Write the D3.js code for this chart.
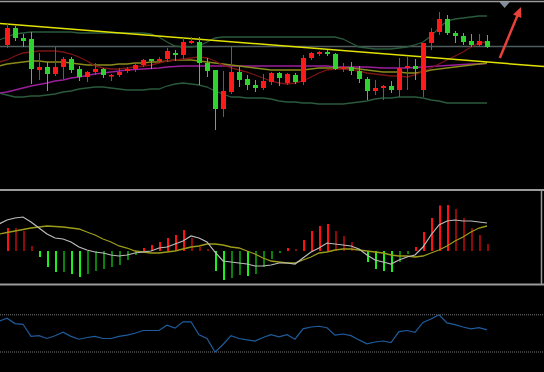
<!DOCTYPE html>
<html>
<head>
<meta charset="utf-8">
<script src="https://cdnjs.cloudflare.com/ajax/libs/d3/7.8.5/d3.min.js"></script>
<style>
html, body { margin: 0; padding: 0; background: #000; overflow: hidden; }
svg { display: block; }
</style>
</head>
<body>
<script>
// daily candles, oldest first
var open  = [15.5,17.2,16.2,16.1,13.0,13.3,12.6,13.3,14.1,13.1, 12.3,12.8,13.1,12.4,12.5,12.9,13.1,13.5,14.1,13.9,
             14.1,14.7,14.5,15.7,15.8,13.7,13.0,9.1,10.8,12.8, 12.1,11.5,11.2,11.8,12.7,11.7,12.5,11.8,14.2,14.6,
             14.8,14.6,13.1,13.3,12.9,12.1,10.9,11.2,11.4,11.0, 13.2,13.4,11.0,15.7,16.8,18.1,16.7,16.4,15.9,15.5, 15.9];
var high  = [17.6,17.4,16.6,16.8,14.7,13.8,15.3,14.3,14.3,13.4, 12.9,13.7,13.2,12.6,13.2,13.3,13.7,14.1,14.1,14.3,
             15.2,15.0,16.2,16.3,16.3,14.2,13.0,12.9,15.4,13.3, 12.5,12.0,12.6,12.8,12.8,12.7,12.7,14.5,14.8,14.9,
             15.0,14.7,13.7,13.8,13.4,12.3,12.0,11.5,11.9,14.2, 14.3,14.1,15.7,17.2,18.8,18.5,16.9,16.7,16.6,16.6, 16.5];
var low   = [15.2,15.9,15.3,11.6,12.0,10.9,12.4,12.1,12.7,11.9, 11.8,12.5,12.2,11.9,12.3,12.7,12.8,13.3,13.1,13.7,
             13.8,13.9,14.1,15.6,11.5,12.3,7.0,8.3,10.6,11.3, 11.0,10.8,11.0,11.5,11.4,11.5,11.6,11.5,14.0,14.4,
             14.4,13.0,12.8,12.5,11.7,10.0,10.5,10.0,10.7,10.3, 11.0,12.0,10.3,15.0,16.5,16.5,15.7,15.5,15.3,15.3, 15.2];
var close = [17.2,16.2,15.9,13.1,13.3,12.6,13.3,14.1,13.0,12.3, 12.8,13.1,12.5,12.5,12.8,13.1,13.5,14.0,13.9,14.1,
             14.9,14.5,15.8,15.9,13.7,12.9,9.1,10.9,12.8,12.0, 11.5,11.2,11.9,12.7,12.2,12.6,11.8,14.2,14.7,14.8,
             14.6,13.1,13.3,12.9,12.1,10.9,11.2,11.4,11.0,13.2, 13.4,13.1,15.7,16.8,18.1,16.7,16.4,15.8,15.5,15.9, 15.3];

// indicator lines start one bar before the first candle
var bollUpper = [16.0,16.3,16.6,16.7,16.8,16.8,16.8,16.8,16.8,16.8, 16.7,16.7,16.7,16.7,16.7,16.7,16.7,16.7,16.7,16.6,
                 16.3,15.8,15.4,15.3,15.3,15.4,15.8,16.2,16.3,16.3, 16.3,16.3,16.3,16.3,16.3,16.3,16.3,16.3,16.3,16.3,
                 16.3,16.3,16.3,16.1,15.7,15.3,15.2,15.1,15.1,15.1, 15.2,15.3,15.5,15.8,16.4,17.2,17.9,18.1,18.2,18.3, 18.4,18.4];
var bollLower = [10.7,10.5,10.3,10.3,10.4,10.4,10.5,10.6,10.8,10.9, 11.1,11.2,11.3,11.3,11.2,11.1,11.0,11.0,11.0,11.1,
                 11.1,11.4,11.6,11.7,11.6,11.5,11.3,10.9,10.6,10.3, 10.3,10.2,10.2,10.2,10.1,9.9,9.8,9.8,9.7,9.7,
                 9.6,9.6,9.6,9.6,9.7,9.8,9.9,10.1,10.2,10.2, 10.3,10.3,10.3,10.2,10.0,9.9,9.7,9.7,9.7,9.7, 9.7,9.7];
var maShort = [13.8,14.0,14.4,14.7,14.8,14.9,14.9,14.9,14.8,14.6, 14.3,13.9,13.4,13.2,13.1,13.1,13.2,13.3,13.4,13.5,
               13.7,13.9,14.0,14.1,14.2,14.3,14.2,13.9,13.5,13.2, 13.0,12.8,12.5,12.2,11.9,11.7,11.6,11.7,11.9,12.3,
               12.7,13.0,13.1,13.1,13.0,12.9,12.7,12.6,12.5,12.4, 12.4,12.3,12.5,12.9,13.2,13.6,14.0,14.4,14.8,15.3, 15.7,15.8];
var maMid = [13.4,13.6,13.7,13.8,13.9,13.9,13.8,13.8,13.8,13.7, 13.6,13.5,13.5,13.5,13.5,13.6,13.6,13.7,13.7,13.8,
             13.8,13.9,14.0,14.0,14.0,13.9,13.8,13.7,13.6,13.5, 13.4,13.3,13.2,13.1,13.0,13.0,13.0,13.0,13.0,13.1,
             13.2,13.2,13.2,13.2,13.2,13.1,13.0,12.9,12.8,12.8, 12.8,12.7,12.7,12.8,13.0,13.1,13.2,13.3,13.4,13.5, 13.6,13.7];
var maLong = [10.7,10.8,11.0,11.2,11.4,11.55,11.7,11.9,12.0,12.2, 12.3,12.45,12.6,12.7,12.8,12.9,13.0,13.05,13.1,13.15,
              13.2,13.3,13.35,13.4,13.4,13.4,13.4,13.4,13.4,13.4, 13.4,13.4,13.4,13.4,13.4,13.4,13.4,13.4,13.4,13.4,
              13.4,13.4,13.3,13.3,13.3,13.3,13.3,13.25,13.2,13.2, 13.2,13.2,13.25,13.3,13.35,13.4,13.45,13.5,13.55,13.6, 13.6,13.65];

// drawn trendline (bar index, price) and horizontal level
var trendIdx = [0, 60];
var trendPrice = [17.6, 13.8];
var levelPrice = 15.35;
var arrowIdx = [61.6, 64.25];
var arrowPrice = [14.2, 19.3];
var markIdx = 62.2;

// MACD
var macdHist = [0.23,0.23,0.20,0.05,-0.06,-0.16,-0.21,-0.21,-0.23,-0.26, -0.23,-0.20,-0.18,-0.16,-0.14,-0.09,-0.04,0.03,0.06,0.09,
                0.13,0.16,0.21,0.13,0.04,0.02,-0.20,-0.29,-0.27,-0.24, -0.25,-0.23,-0.16,-0.08,-0.02,0.03,0.02,0.11,0.20,0.25,
                0.27,0.20,0.15,0.09,0.01,-0.11,-0.18,-0.20,-0.21,-0.11, -0.03,0.04,0.19,0.33,0.455,0.46,0.42,0.33,0.23,0.16, 0.07];
var macdDif = [0.27,0.31,0.33,0.34,0.29,0.23,0.17,0.13,0.12,0.09, 0.04,0.01,-0.01,-0.02,-0.04,-0.05,-0.04,-0.02,-0.01,0.00,
               0.03,0.04,0.07,0.10,0.15,0.13,0.09,-0.01,-0.10,-0.11, -0.12,-0.13,-0.15,-0.15,-0.14,-0.12,-0.12,-0.13,-0.07,-0.01,
               0.03,0.08,0.07,0.06,0.05,0.02,-0.04,-0.09,-0.11,-0.13, -0.09,-0.06,-0.04,0.04,0.16,0.26,0.30,0.31,0.30,0.30, 0.29,0.28];
var macdDea = [0.17,0.185,0.20,0.215,0.23,0.24,0.25,0.245,0.24,0.23, 0.22,0.19,0.16,0.12,0.09,0.05,0.03,0.00,-0.01,-0.02,
               -0.02,-0.01,0.00,0.02,0.04,0.05,0.07,0.07,0.06,0.04, 0.03,0.00,-0.03,-0.07,-0.10,-0.11,-0.12,-0.12,-0.09,-0.06,
               -0.02,-0.01,0.01,0.02,0.02,0.01,0.00,-0.01,-0.02,-0.04, -0.05,-0.05,-0.06,-0.05,-0.02,0.01,0.05,0.10,0.14,0.19, 0.23,0.25];

// RSI with 80 / 20 guides
var rsi = [69.8,74.4,65.8,64.7,45.2,46.3,41.8,46.3,51.8,45.2, 40.6,43.4,45.2,41.8,41.8,45.2,47.3,50.2,54.7,54.7,
           54.7,63.1,58.5,68.7,68.7,47.9,41.8,19.8,32.1,46.3, 41.8,39.5,37.7,43.4,47.9,44.5,47.9,40.6,57.4,60.3,
           61.5,59.2,47.3,49.0,46.3,39.5,33.2,36.1,37.7,35.0, 52.9,54.7,51.8,67.6,73.2,80.0,66.9,64.2,60.3,57.4, 59.2,55.8];
var rsiLevels = [80, 20];


var W = 544, H = 372;
var svg = d3.select("body").append("svg").attr("width", W).attr("height", H);
svg.append("rect").attr("width", W).attr("height", H).attr("fill", "#000");

var x = d3.scaleLinear().domain([0, 60]).range([7, 487]);
var y = d3.scaleLinear().domain([1.2, 20]).range([188, 0]);
var ym = d3.scaleLinear().domain([-0.32, 0.59]).range([283, 192]);
var yr = d3.scaleLinear().domain([0, 100]).range([364.4, 302.4]);

var main = svg.append("g");

// price line helper, lines begin at bar -1
function priceLine(arr, color, w) {
    main.append("path")
        .datum(arr)
        .attr("fill", "none")
        .attr("stroke", color)
        .attr("stroke-width", w)
        .attr("d", d3.line().x(function(d, i){ return x(i - 1); }).y(function(d){ return y(d); }));
}

// horizontal level
main.append("line")
    .attr("x1", 0).attr("x2", W)
    .attr("y1", y(levelPrice)).attr("y2", y(levelPrice))
    .attr("stroke", "#505c5c").attr("stroke-width", 1.5);

priceLine(bollUpper, "#2a5a3c", 1.3);
priceLine(bollLower, "#2a5a3c", 1.3);
priceLine(maLong, "#9a1f9a", 1.3);
priceLine(maMid, "#8a8a1c", 1.3);
priceLine(maShort, "#7a1414", 1.3);

// trendline, extended across the panel
var slope = (trendPrice[1] - trendPrice[0]) / (trendIdx[1] - trendIdx[0]);
function trendAt(i){ return trendPrice[0] + slope * (i - trendIdx[0]); }
main.append("line")
    .attr("x1", 0).attr("y1", y(trendAt(x.invert(0))))
    .attr("x2", W).attr("y2", y(trendAt(x.invert(W))))
    .attr("stroke", "#e2e200").attr("stroke-width", 1.5);

// candles
var idx = d3.range(open.length);
var up = function(i){ return close[i] >= open[i]; };
var cRed = "#ff1a1a", cGreen = "#2fd22f";

main.selectAll(".wick")
    .data(idx)
    .enter()
    .append("line")
    .attr("x1", function(i){ return x(i) + 0.5; })
    .attr("x2", function(i){ return x(i) + 0.5; })
    .attr("y1", function(i){ return y(high[i]); })
    .attr("y2", function(i){ return y(low[i]); })
    .attr("stroke", function(i){ return up(i) ? cRed : cGreen; })
    .attr("stroke-width", 1);

main.selectAll(".body")
    .data(idx)
    .enter()
    .append("rect")
    .attr("x", function(i){ return x(i) - 2; })
    .attr("width", 5)
    .attr("y", function(i){ return y(Math.max(open[i], close[i])); })
    .attr("height", function(i){ return Math.max(1.5, Math.abs(y(open[i]) - y(close[i]))); })
    .attr("fill", function(i){ return up(i) ? cRed : cGreen; });

// red arrow annotation
var ax1 = x(arrowIdx[0]), ay1 = y(arrowPrice[0]), ax2 = x(arrowIdx[1]), ay2 = y(arrowPrice[1]);
var dx = ax2 - ax1, dy = ay2 - ay1, len = Math.sqrt(dx*dx + dy*dy);
var ux = dx/len, uy = dy/len;
var bx = ax2 - ux*10, by = ay2 - uy*10;
main.append("line")
    .attr("x1", ax1).attr("y1", ay1).attr("x2", bx + ux*2).attr("y2", by + uy*2)
    .attr("stroke", "#e8403a").attr("stroke-width", 2.5);
main.append("path")
    .attr("d", "M" + ax2 + "," + ay2 + "L" + (bx - uy*4.5) + "," + (by + ux*4.5) + "L" + (bx + uy*4.5) + "," + (by - ux*4.5) + "Z")
    .attr("fill", "#e8403a");

// small marker at the top
var mx = x(markIdx);
main.append("path")
    .attr("d", "M" + (mx - 6) + ",1L" + (mx + 6) + ",1L" + mx + ",8Z")
    .attr("fill", "#7f8c9a");

// top border
svg.append("line").attr("x1", 0).attr("x2", W).attr("y1", 1.5).attr("y2", 1.5)
    .attr("stroke", "#9a9a9a").attr("stroke-width", 1.5);

// MACD panel
var macd = svg.append("g");
macd.selectAll("rect")
    .data(macdHist)
    .enter()
    .append("rect")
    .attr("x", function(d, i){ return x(i); })
    .attr("width", 2)
    .attr("y", function(d){ return d >= 0 ? ym(d) : ym(0); })
    .attr("height", function(d){ return Math.abs(ym(d) - ym(0)); })
    .attr("fill", function(d, i){
        var prev = i > 0 ? macdHist[i - 1] : 0;
        if (d >= 0) return (i === 0 || d > prev) ? "#ff1010" : "#8e0a0a";
        return (d < prev) ? "#1cf01c" : "#0b800b";
    });

macd.append("path")
    .datum(macdDea)
    .attr("fill", "none").attr("stroke", "#9c9c1a").attr("stroke-width", 1.3)
    .attr("d", d3.line().x(function(d, i){ return x(i - 1); }).y(function(d){ return ym(d); }));
macd.append("path")
    .datum(macdDif)
    .attr("fill", "none").attr("stroke", "#bcbcbc").attr("stroke-width", 1.2)
    .attr("d", d3.line().x(function(d, i){ return x(i - 1); }).y(function(d){ return ym(d); }));

// RSI panel
var rs = svg.append("g");
rs.selectAll("line.lvl")
    .data(rsiLevels)
    .enter()
    .append("line")
    .attr("x1", 0).attr("x2", W)
    .attr("y1", function(d){ return yr(d); })
    .attr("y2", function(d){ return yr(d); })
    .attr("stroke", "#7a7a7a").attr("stroke-width", 1)
    .attr("stroke-dasharray", "1,1");
rs.append("path")
    .datum(rsi)
    .attr("fill", "none").attr("stroke", "#1f5c9c").attr("stroke-width", 1.2)
    .attr("d", d3.line().x(function(d, i){ return x(i - 1); }).y(function(d){ return yr(d); }));

// panel separators
svg.append("line").attr("x1", 0).attr("x2", W).attr("y1", 190).attr("y2", 190)
    .attr("stroke", "#9a9a9a").attr("stroke-width", 2);
svg.append("line").attr("x1", 0).attr("x2", W).attr("y1", 284.5).attr("y2", 284.5)
    .attr("stroke", "#9a9a9a").attr("stroke-width", 2);
svg.append("line").attr("x1", 541.5).attr("x2", 541.5).attr("y1", 190).attr("y2", 284.5)
    .attr("stroke", "#9a9a9a").attr("stroke-width", 1.5);
</script>
</body>
</html>
